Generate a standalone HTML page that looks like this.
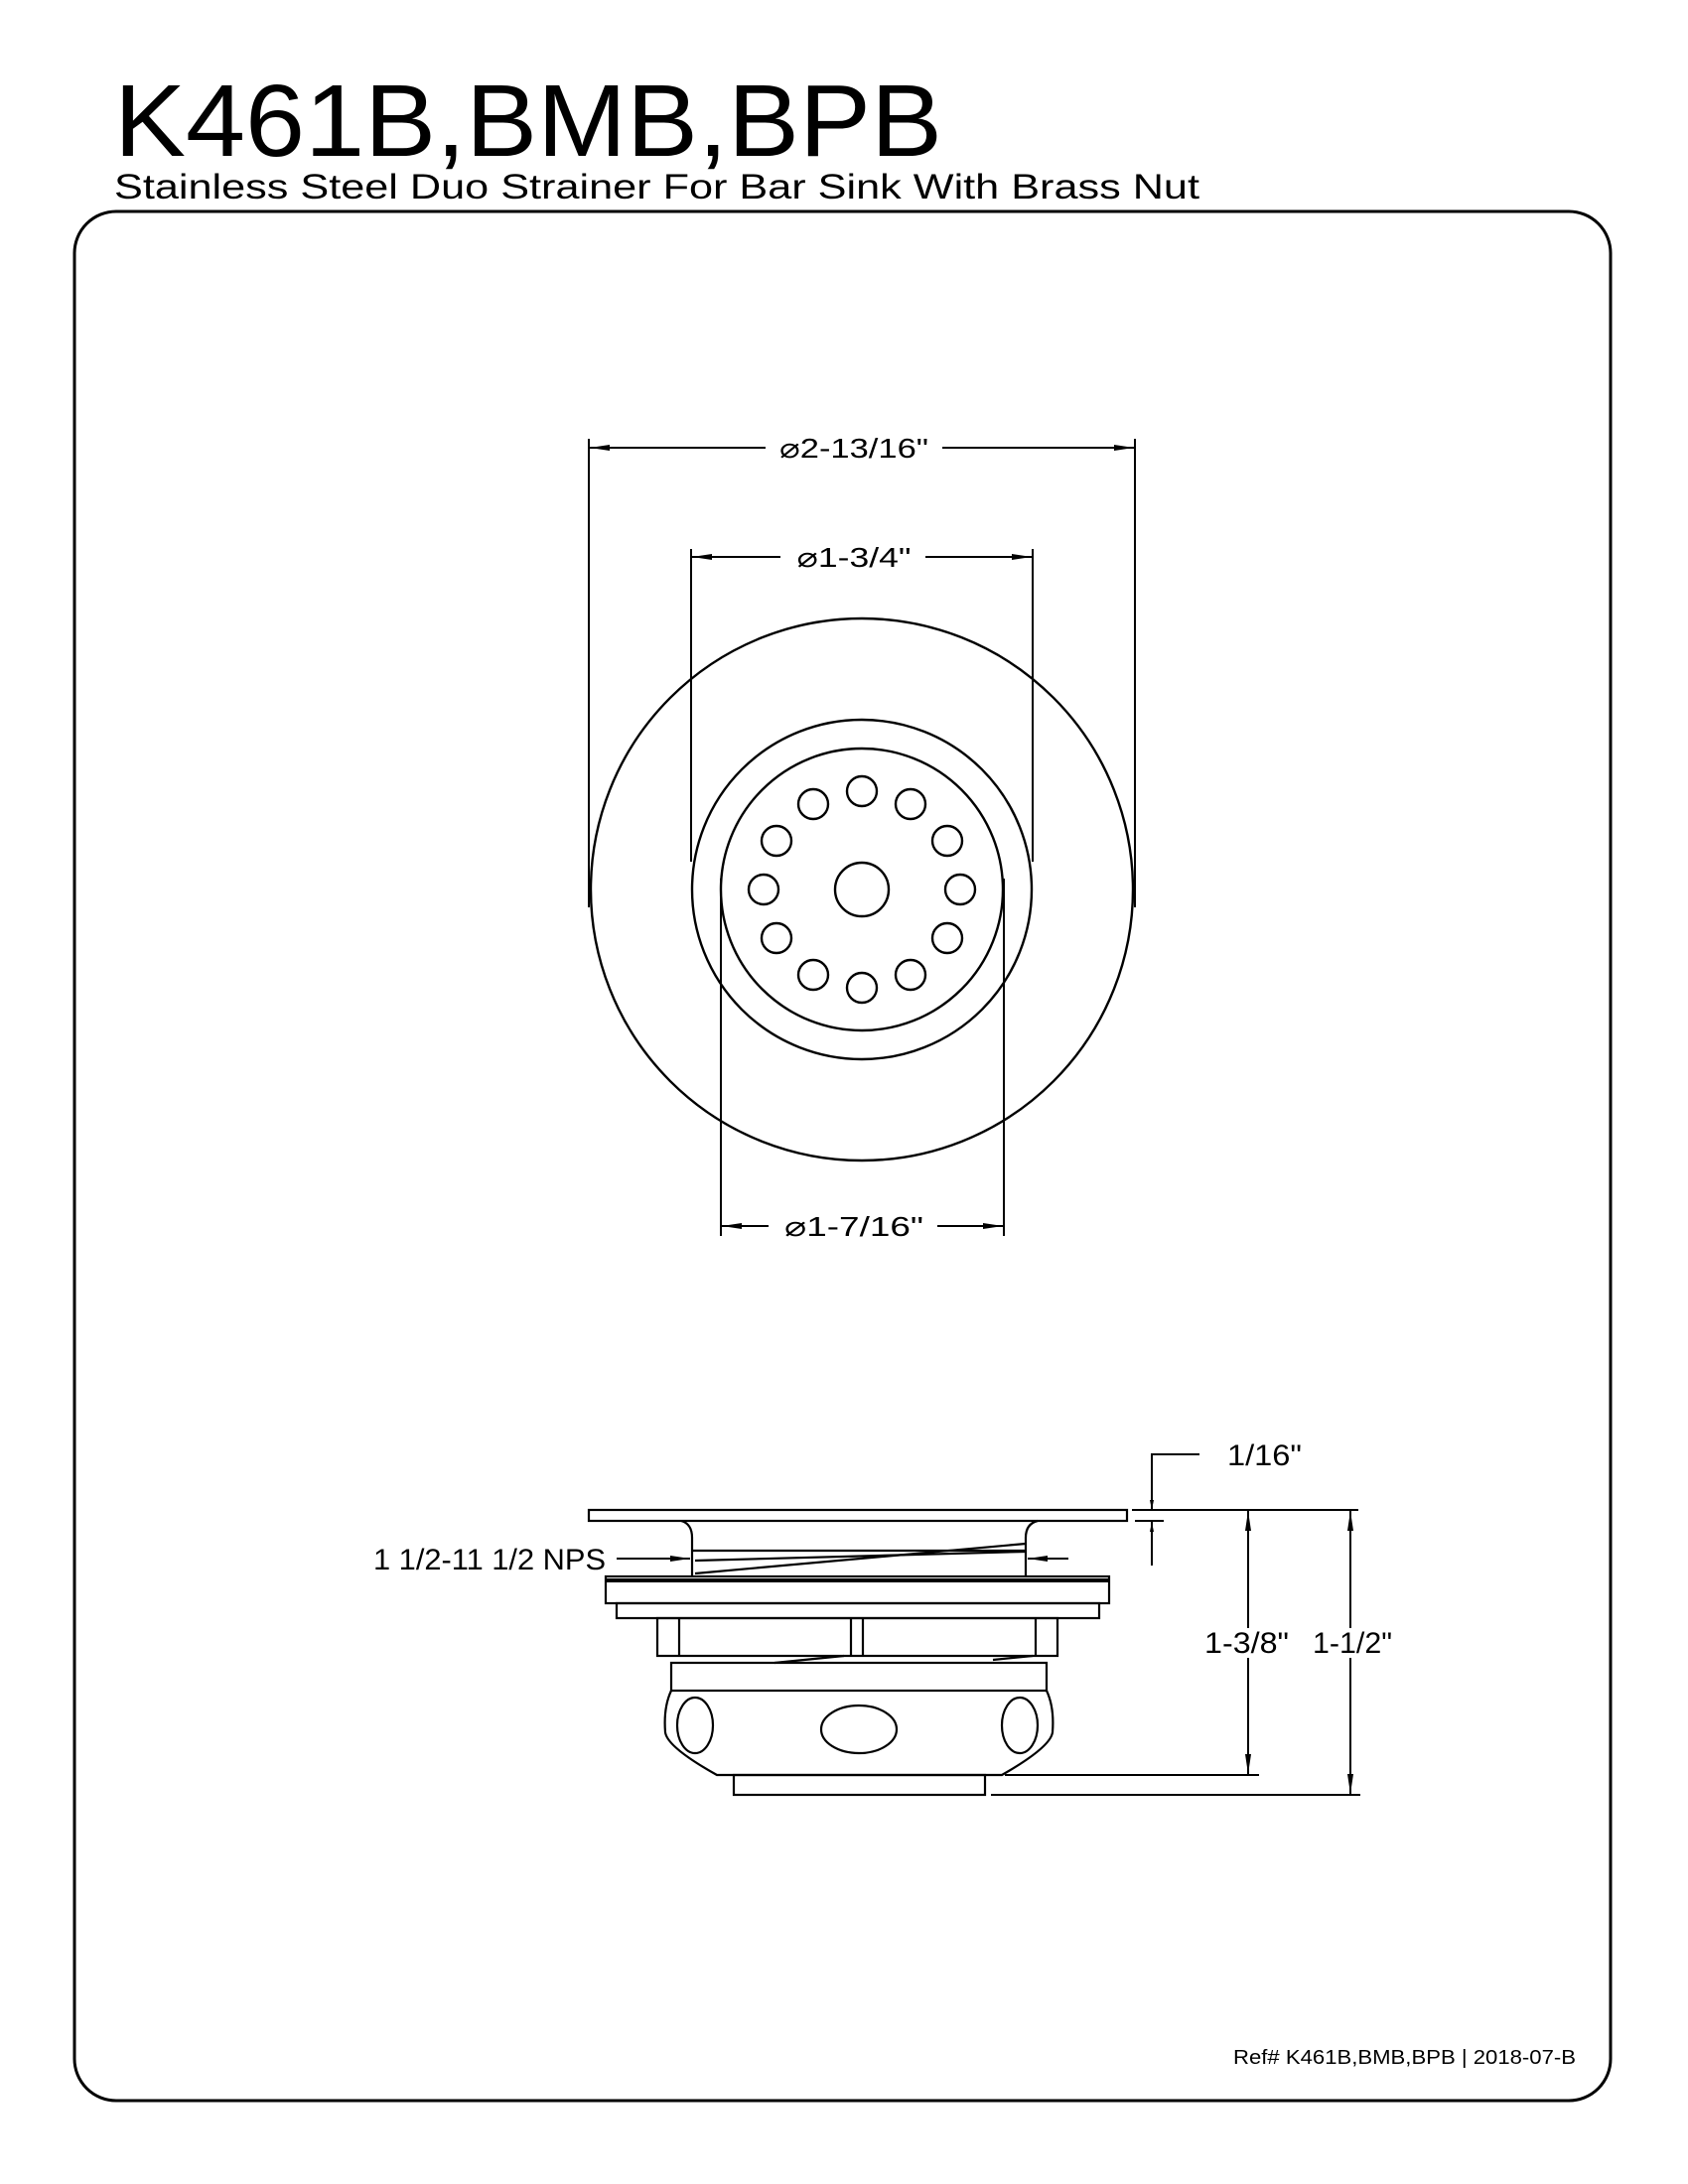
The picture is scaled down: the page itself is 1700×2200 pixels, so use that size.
<!DOCTYPE html>
<html><head><meta charset="utf-8"><style>
html,body{margin:0;padding:0;background:#fff;}
svg{display:block;}
text{font-family:"Liberation Sans",sans-serif;fill:#000;}
</style></head><body>
<svg width="1700" height="2200" viewBox="0 0 1700 2200" xmlns="http://www.w3.org/2000/svg">
<defs>
<marker id="a" viewBox="0 0 10 4" refX="10" refY="2" markerWidth="10" markerHeight="4" markerUnits="userSpaceOnUse" orient="auto"><path d="M0,0 L10,2 L0,4Z" fill="#000"/></marker>
<marker id="b" viewBox="0 0 20 6" refX="20" refY="3" markerWidth="20" markerHeight="6" markerUnits="userSpaceOnUse" orient="auto"><path d="M0,0 L20,3 L0,6Z" fill="#000"/></marker>
</defs>
<text x="115" y="157" font-size="103" textLength="834" lengthAdjust="spacingAndGlyphs">K461B,BMB,BPB</text>
<text x="115" y="200" font-size="35" textLength="1093" lengthAdjust="spacingAndGlyphs">Stainless Steel Duo Strainer For Bar Sink With Brass Nut</text>
<rect x="75" y="213" width="1547" height="1903" rx="42" ry="42" fill="none" stroke="#000" stroke-width="3"/>

<g fill="none" stroke="#000" stroke-width="2.4">
<circle cx="868" cy="896" r="273"/>
<circle cx="868" cy="896" r="171"/>
<circle cx="868" cy="896" r="142"/>
<circle cx="868" cy="896" r="27"/>
<circle cx="868" cy="797" r="15"/>
<circle cx="868" cy="995" r="15"/>
<circle cx="917" cy="810" r="15"/>
<circle cx="819" cy="810" r="15"/>
<circle cx="917" cy="982" r="15"/>
<circle cx="819" cy="982" r="15"/>
<circle cx="954" cy="847" r="15"/>
<circle cx="782" cy="847" r="15"/>
<circle cx="954" cy="945" r="15"/>
<circle cx="782" cy="945" r="15"/>
<circle cx="967" cy="896" r="15"/>
<circle cx="769" cy="896" r="15"/>
</g>

<g stroke="#000" stroke-width="2" fill="none">
<line x1="593" y1="442" x2="593" y2="914"/>
<line x1="1143" y1="442" x2="1143" y2="914"/>
<line x1="771" y1="451" x2="594" y2="451" marker-end="url(#b)"/>
<line x1="949" y1="451" x2="1142" y2="451" marker-end="url(#b)"/>
<line x1="696" y1="553" x2="696" y2="868"/>
<line x1="1040" y1="553" x2="1040" y2="868"/>
<line x1="786" y1="561" x2="697" y2="561" marker-end="url(#b)"/>
<line x1="932" y1="561" x2="1039" y2="561" marker-end="url(#b)"/>
<line x1="726" y1="885" x2="726" y2="1245"/>
<line x1="1011" y1="885" x2="1011" y2="1245"/>
<line x1="774" y1="1235" x2="727" y2="1235" marker-end="url(#b)"/>
<line x1="944" y1="1235" x2="1010" y2="1235" marker-end="url(#b)"/>
</g>
<text x="860" y="461" font-size="28" text-anchor="middle" textLength="150" lengthAdjust="spacingAndGlyphs">⌀2-13/16"</text>
<text x="860" y="571" font-size="28" text-anchor="middle" textLength="115" lengthAdjust="spacingAndGlyphs">⌀1-3/4"</text>
<text x="860" y="1245" font-size="28" text-anchor="middle" textLength="140" lengthAdjust="spacingAndGlyphs">⌀1-7/16"</text>

<!-- side view -->
<g fill="none" stroke="#000" stroke-width="2.2">
<rect x="593" y="1521" width="542" height="11"/>
<path d="M686,1532 Q697,1535 697,1549 L697,1588"/>
<path d="M1045,1532 Q1033,1535 1033,1549 L1033,1588"/>
<line x1="697" y1="1562" x2="1033" y2="1562"/>
<line x1="700" y1="1585" x2="1033" y2="1555"/>
<line x1="700" y1="1572" x2="1033" y2="1563"/>
<rect x="610" y="1588" width="507" height="27"/>
<line x1="610" y1="1592" x2="1117" y2="1592" stroke-width="4"/>
<rect x="621" y="1615" width="486" height="15"/>
<rect x="662" y="1630" width="403" height="38"/>
<line x1="684" y1="1630" x2="684" y2="1668"/>
<line x1="1043" y1="1630" x2="1043" y2="1668"/>
<line x1="857" y1="1630" x2="857" y2="1668"/>
<line x1="869" y1="1630" x2="869" y2="1668"/>
<line x1="780" y1="1675" x2="850" y2="1668"/>
<line x1="1000" y1="1672" x2="1040" y2="1668"/>
<rect x="676" y="1675" width="378" height="28"/>
<path d="M676,1703 Q668,1720 670,1745 Q672,1760 722,1788 L1009,1788 Q1058,1760 1060,1745 Q1062,1720 1054,1703"/>
<ellipse cx="700" cy="1738" rx="18" ry="28"/>
<ellipse cx="1027" cy="1738" rx="18" ry="28"/>
<ellipse cx="865" cy="1742" rx="38" ry="24"/>
<rect x="739" y="1788" width="253" height="20"/>
</g>

<g stroke="#000" stroke-width="2" fill="none">
<polyline points="1208,1465 1160,1465 1160,1520"/>
<line x1="1160" y1="1490" x2="1160" y2="1521" marker-end="url(#a)"/>
<line x1="1160" y1="1577" x2="1160" y2="1533" marker-end="url(#a)"/>
<line x1="1143" y1="1532" x2="1172" y2="1532"/>
<line x1="1140" y1="1521" x2="1368" y2="1521"/>
<line x1="1257" y1="1640" x2="1257" y2="1522" marker-end="url(#b)"/>
<line x1="1257" y1="1670" x2="1257" y2="1787" marker-end="url(#b)"/>
<line x1="1012" y1="1788" x2="1268" y2="1788"/>
<line x1="1360" y1="1640" x2="1360" y2="1522" marker-end="url(#b)"/>
<line x1="1360" y1="1670" x2="1360" y2="1807" marker-end="url(#b)"/>
<line x1="998" y1="1808" x2="1370" y2="1808"/>
<line x1="621" y1="1570" x2="695" y2="1570" marker-end="url(#b)"/>
<line x1="1076" y1="1570" x2="1035" y2="1570" marker-end="url(#b)"/>
</g>
<text x="1236" y="1476" font-size="30" textLength="75" lengthAdjust="spacingAndGlyphs">1/16"</text>
<text x="1213" y="1665" font-size="30" textLength="85" lengthAdjust="spacingAndGlyphs">1-3/8"</text>
<text x="1322" y="1665" font-size="30" textLength="80" lengthAdjust="spacingAndGlyphs">1-1/2"</text>
<text x="376" y="1581" font-size="30" textLength="234" lengthAdjust="spacingAndGlyphs">1 1/2-11 1/2 NPS</text>

<text x="1242" y="2079" font-size="20" textLength="345" lengthAdjust="spacingAndGlyphs">Ref# K461B,BMB,BPB  | 2018-07-B</text>
</svg>
</body></html>
